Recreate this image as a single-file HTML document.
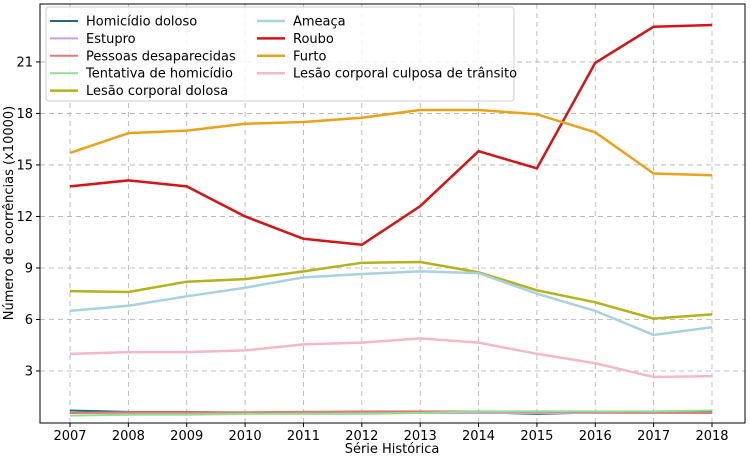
<!DOCTYPE html>
<html><head><meta charset="utf-8"><style>
body{margin:0;background:#fff;font-family:"Liberation Sans","DejaVu Sans",sans-serif}
svg text{font-family:"DejaVu Sans","Liberation Sans",sans-serif}
</style></head><body>
<svg id="chart" width="750" height="456"></svg>
<script>
const years=[2007,2008,2009,2010,2011,2012,2013,2014,2015,2016,2017,2018];
const yTicks=[3,6,9,12,15,18,21];
const names=["Homicídio doloso","Estupro","Pessoas desaparecidas","Tentativa de homicídio","Lesão corporal dolosa","Ameaça","Roubo","Furto","Lesão corporal culposa de trânsito"];
const colors=["#1a6e78","#c9a3d6","#e07c74","#90e090","#b5b21a","#a9d2e0","#d41515","#eba21b","#f5b8c9"];
const widths=[2,2,2,2,2.5,2.5,2.5,2.5,2.5];
const homicidio=[0.7,0.62,0.62,0.57,0.55,0.55,0.55,0.6,0.5,0.58,0.58,0.6];
const estupro=[0.55,0.55,0.55,0.55,0.55,0.55,0.55,0.55,0.55,0.55,0.55,0.55];
const pessoas=[0.55,0.6,0.6,0.6,0.62,0.65,0.65,0.65,0.62,0.6,0.58,0.55];
const tentativa=[0.4,0.45,0.45,0.5,0.5,0.5,0.55,0.65,0.65,0.65,0.65,0.7];
const lesaoDolosa=[7.65,7.6,8.2,8.35,8.8,9.3,9.35,8.75,7.7,7.0,6.05,6.3];
const ameaca=[6.5,6.8,7.35,7.85,8.45,8.65,8.8,8.7,7.5,6.5,5.1,5.55];
const roubo=[13.75,14.1,13.75,12.0,10.7,10.35,12.6,15.8,14.8,20.95,23.05,23.15];
const furto=[15.7,16.85,17.0,17.4,17.5,17.75,18.2,18.2,17.95,16.9,14.5,14.4];
const lesaoCulposa=[4.0,4.1,4.1,4.2,4.55,4.65,4.9,4.65,4.0,3.45,2.65,2.7];
const series=[homicidio,estupro,pessoas,tentativa,lesaoDolosa,ameaca,roubo,furto,lesaoCulposa];

const svg=document.getElementById('chart');
const NS='http://www.w3.org/2000/svg';
const L=40,R=745,T=4,B=423;
const x=i=>70+i*(712-70)/(years.length-1);
const y=v=>422.5-v*17.17;
function mk(tag,a,parent){const e=document.createElementNS(NS,tag);for(const k in a)e.setAttribute(k,a[k]);(parent||svg).appendChild(e);return e;}
// grid
years.forEach((yr,i)=>{
  const g=mk('line',{x1:x(i),x2:x(i),y1:T,y2:B,stroke:'#b0b0b0','stroke-dasharray':'5,4','stroke-width':0.8});
  
  
  mk('line',{x1:x(i),x2:x(i),y1:B,y2:B+4,stroke:'#000'});
  const t=mk('text',{x:x(i),y:440,'text-anchor':'middle','font-size':13});
  t.textContent=yr;
  
  
});
yTicks.forEach(v=>{
  const g=mk('line',{x1:L,x2:R,y1:y(v),y2:y(v),stroke:'#b0b0b0','stroke-dasharray':'5,4','stroke-width':0.8});
  
  
  mk('line',{x1:L-4,x2:L,y1:y(v),y2:y(v),stroke:'#000'});
  const t=mk('text',{x:L-7,y:y(v)+4.5,'text-anchor':'end','font-size':13});
  t.textContent=v;
  
  
});
// series
series.forEach((s,k)=>{
  const p=mk('polyline',{points:s.map((v,i)=>x(i)+','+y(v)).join(' '),fill:'none',stroke:colors[k],'stroke-width':widths[k],'stroke-linejoin':'round'});
  
  
});
// frame
const fr=mk('rect',{x:L,y:T,width:R-L,height:B-T,fill:'none',stroke:'#000','stroke-width':1});


// axis titles
const xt=mk('text',{x:392,y:453,'text-anchor':'middle','font-size':13});
xt.textContent='Série Histórica';


const yt=mk('text',{x:13,y:213,'text-anchor':'middle','font-size':13,transform:'rotate(-90 13 213)'});
yt.textContent='Número de ocorrências (x10000)';


// legend
const lg=mk('g',{});


mk('rect',{x:46,y:7,width:468,height:94,rx:3,fill:'#fff','fill-opacity':0.85,stroke:'#ccc'},lg);
names.forEach((n,k)=>{
  const col=k<5?0:1, row=k<5?k:k-5;
  const lx=col?257:50, ly=21+row*17.4;
  mk('line',{x1:lx,x2:lx+28,y1:ly,y2:ly,stroke:colors[k],'stroke-width':widths[k]},lg);
  const t=mk('text',{x:lx+36,y:ly+4.5,'font-size':13},lg);
  t.textContent=n;
  
  
});
</script>
</body></html>
